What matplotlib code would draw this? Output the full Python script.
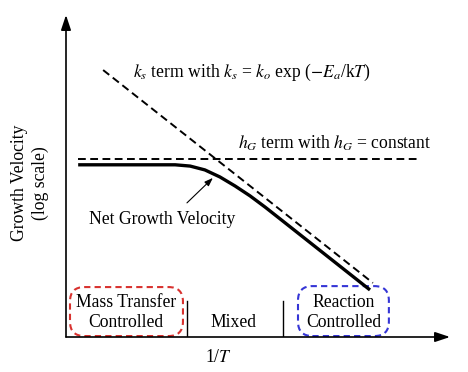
import matplotlib
matplotlib.use("Agg")
import matplotlib.pyplot as plt
from matplotlib.patches import FancyBboxPatch

plt.rcParams['font.family'] = ['Liberation Serif', 'DejaVu Serif']
plt.rcParams['mathtext.fontset'] = 'stix'

# Data (arbitrary units: x ~ 1/T, y ~ log growth velocity)
ks_x = [1.16, 9.59]
ks_y = [8.34, 1.69]
hg_x = [0.38, 11.06]
hg_y = [5.56, 5.56]
net_x = [0.38, 3.41, 3.88, 4.34, 4.81, 5.28, 5.75, 6.22, 6.69, 9.50]
net_y = [5.38, 5.38, 5.34, 5.22, 5.00, 4.72, 4.41, 4.06, 3.69, 1.47]
separators_x = [3.78, 6.78]
separator_top = 1.125
region_labels = ["Mass Transfer\nControlled", "Mixed", "Reaction\nControlled"]
region_centers = [1.875, 5.22, 8.69]
red_box = (0.125, 0.03, 3.53, 1.53)   # x, y, w, h
blue_box = (7.25, 0.03, 2.84, 1.56)
XMAX, YMAX = 12.0, 10.06

fig = plt.figure(figsize=(4.68, 3.72), dpi=100)
ax = fig.add_axes([66/468, 35/372, 384/468, 322/372])
ax.set_xlim(0, XMAX)
ax.set_ylim(0, YMAX)
ax.axis('off')

FS = 12.7
# axes arrows
ax.annotate('', xy=(0, YMAX), xytext=(0, 0),
            arrowprops=dict(arrowstyle='-|>,head_length=0.9,head_width=0.3', lw=1.2, color='black',
                            shrinkA=0, shrinkB=0), annotation_clip=False)
ax.annotate('', xy=(XMAX, 0), xytext=(0, 0),
            arrowprops=dict(arrowstyle='-|>,head_length=0.9,head_width=0.3', lw=1.2, color='black',
                            shrinkA=0, shrinkB=0), annotation_clip=False)

ax.plot(ks_x, ks_y, color='black', lw=1.4, linestyle=(0, (4, 2.3)))
ax.plot(hg_x, hg_y, color='black', lw=1.4, linestyle=(0, (4, 2.3)))
ax.plot(net_x, net_y, color='black', lw=2.4, solid_capstyle='butt')

for sx in separators_x:
    ax.plot([sx, sx], [0, separator_top], color='black', lw=1.0)

for (bx, by, bw, bh), col in [(red_box, '#d8322f'), (blue_box, '#3535d6')]:
    p = FancyBboxPatch((bx, by), bw, bh, boxstyle='round,pad=0,rounding_size=0.45',
                       fill=False, edgecolor=col, lw=1.5, linestyle=(0, (3, 2)),
                       clip_on=False)
    ax.add_patch(p)

for lab, cx in zip(region_labels, region_centers):
    if '\n' in lab:
        l1, l2 = lab.split('\n')
        ax.text(cx, 1.09, l1, ha='center', va='center', fontsize=FS)
        ax.text(cx, 0.44, l2, ha='center', va='center', fontsize=FS)
    else:
        ax.text(cx, 0.44, lab, ha='center', va='center', fontsize=FS)

ax.text(2.09, 8.28, r"$k_s$ term with $k_s$ = $k_o$ exp ($-E_a$/k$T$)",
        ha='left', va='center', fontsize=FS)
ax.text(5.375, 6.06, r"$h_G$ term with $h_G$ = constant",
        ha='left', va='center', fontsize=FS)
ax.text(3.02, 3.66, "Net Growth Velocity", ha='center', va='center', fontsize=FS)
ax.annotate('', xy=(4.59, 4.97), xytext=(3.78, 4.19),
            arrowprops=dict(arrowstyle='-|>,head_length=0.5,head_width=0.18', lw=0.8, color='black',
                            shrinkA=0, shrinkB=0))
ax.text(4.75, -0.625, r"1/$T$", ha='center', va='center', fontsize=FS)

fig.text(20/468, 1 - 183/372, "Growth Velocity", rotation=90, ha='center', va='center', fontsize=FS)
fig.text(40/468, 1 - 183/372, "(log scale)", rotation=90, ha='center', va='center', fontsize=FS)

fig.savefig('out.png', dpi=100, facecolor='white')
